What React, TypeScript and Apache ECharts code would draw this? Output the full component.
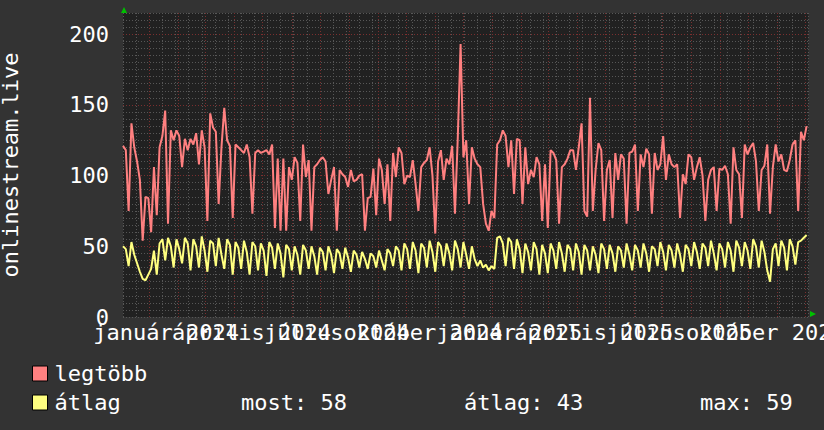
import React, { useEffect, useRef } from "react";
import * as echarts from "echarts";

// Time axis in days counted from 2023-12-04 (left edge) to 2025-12-04 (right edge)
const TOTAL_DAYS = 731;
const DAY_STEP = 3; // one reading every 3 days
const MINOR_GRID_DAYS = 14;

// first day of each month (days from 2023-12-04)
const monthStartDays = [
  28, 59, 88, 119, 149, 180, 210, 241, 272, 302, 333, 363,
  394, 425, 453, 484, 514, 545, 575, 606, 637, 667, 698, 728,
];

// x tick labels and where they sit (days from 2023-12-04)
const xLabelDays = [46, 137, 228, 320, 412, 502, 593, 685];
const xLabelTexts = [
  "január 2024", "április 2024", "július 2024", "október 2024",
  "január 2025", "április 2025", "július 2025", "október 2025",
];

const yMajorTicks = [50, 100, 150, 200];

// legtöbb (maximum) readings
const maxValues = [
  121, 118, 75, 137, 120, 110, 97, 54, 85, 84,
  60, 106, 72, 120, 128, 146, 66, 132, 125, 132,
  128, 106, 126, 118, 126, 122, 130, 108, 132, 120,
  68, 144, 134, 131, 80, 120, 148, 125, 121, 70,
  122, 120, 118, 116, 122, 113, 73, 116, 118, 116,
  117, 118, 115, 122, 63, 112, 61, 112, 61, 106,
  97, 113, 109, 68, 122, 99, 111, 61, 106, 108,
  111, 113, 110, 87, 97, 106, 61, 104, 101, 99,
  92, 104, 96, 97, 100, 101, 61, 84, 85, 105,
  72, 112, 104, 80, 108, 68, 116, 99, 120, 116,
  94, 100, 99, 111, 94, 75, 106, 109, 111, 120,
  100, 59, 110, 118, 97, 112, 108, 121, 73, 127,
  193, 113, 125, 80, 120, 112, 108, 106, 80, 66,
  61, 75, 70, 122, 125, 132, 128, 106, 125, 87,
  126, 125, 80, 120, 94, 104, 99, 113, 108, 68,
  108, 63, 118, 116, 111, 66, 106, 108, 112, 118,
  118, 104, 120, 137, 75, 71, 155, 75, 104, 123,
  118, 68, 104, 111, 70, 116, 97, 115, 112, 66,
  116, 117, 122, 75, 115, 106, 119, 115, 73, 116,
  104, 108, 128, 97, 115, 108, 106, 108, 70, 101,
  94, 115, 113, 97, 106, 113, 100, 68, 97, 104,
  106, 75, 105, 104, 107, 101, 66, 120, 104, 101,
  70, 122, 115, 120, 123, 110, 75, 104, 107, 122,
  73, 106, 122, 110, 115, 104, 103, 111, 122, 125,
  75, 131, 125, 135,
];

// átlag (average) readings
const avgValues = [
  50, 48, 36, 53, 44, 38, 32, 27, 26, 30,
  34, 47, 30, 52, 55, 40, 56, 50, 35, 55, 48,
  38, 56, 52, 33, 55, 50, 35, 57, 47, 32, 54, 52, 36, 56, 44, 34, 55, 51, 30, 53,
  49, 34, 54, 46, 30, 53, 50, 33, 52, 47, 29, 53, 49, 34, 52, 45, 28, 51, 48, 33,
  50, 44, 30, 51, 47, 34, 50, 43, 30, 49, 46, 33, 50, 44, 31, 48, 45, 34, 49, 42,
  32, 47, 44, 35, 46, 41, 34, 45, 43, 35, 47, 40, 33, 48, 45, 36, 50, 47, 33, 52,
  48, 34, 53, 47, 31, 52, 49, 35, 54, 46, 32, 53, 50, 36, 52, 45, 33, 54, 48, 35,
  53, 44, 34, 50, 41, 36, 40, 35, 37, 33, 36, 34, 56, 57, 52, 36, 56, 53, 34, 55,
  48, 31, 52, 46, 33, 53, 48, 30, 51, 45, 31, 52, 47, 34, 53, 45, 32, 51, 48, 33,
  52, 46, 30, 51, 47, 33, 50, 44, 31, 52, 48, 34, 51, 45, 32, 50, 47, 35, 52, 44,
  33, 51, 47, 35, 52, 45, 32, 50, 48, 36, 53, 46, 33, 51, 47, 35, 52, 44, 32, 51,
  48, 36, 53, 46, 34, 52, 49, 36, 54, 45, 33, 52, 48, 35, 53, 47, 32, 54, 49, 36,
  53, 47, 34, 55, 50, 35, 54, 46, 33, 25, 48, 52, 36, 54, 49, 33, 55, 50, 37, 53, 54, 56, 58,
];

const seriesNames = ["legtöbb", "átlag"];
const seriesColors = ["#ff8080", "#ffff80"];
const statTexts = ["most: 58", "átlag: 43", "max: 59"];

const FONT = "DejaVu Sans Mono";

export default function App() {
  const ref = useRef<HTMLDivElement>(null);

  useEffect(() => {
    if (!ref.current) return;
    const chart = echarts.init(ref.current, null, { renderer: "svg" });

    const toPairs = (arr: number[]) => arr.map((v, i) => [i * DAY_STEP, v]);
    // empty guard labels at both ends so that no real label is dropped
    const labelPositions = [0, ...xLabelDays, TOTAL_DAYS];

    chart.setOption({
      animation: false,
      backgroundColor: "#333333",
      textStyle: { fontFamily: FONT },
      grid: {
        left: 123,
        right: 15.5,
        top: 13,
        bottom: 113,
        show: true,
        backgroundColor: "#212121",
        borderWidth: 0,
        containLabel: false,
        outerBoundsMode: "none",
      },
      legend: {
        data: seriesNames.map((n, i) => ({
          name: n,
          itemStyle: { color: seriesColors[i], borderColor: "#000", borderWidth: 1 },
        })),
        orient: "vertical",
        left: 32,
        top: 362.5,
        padding: 0,
        itemGap: 7,
        itemWidth: 15,
        itemHeight: 15,
        icon: "rect",
        selectedMode: false,
        textStyle: {
          color: "#ffffff",
          fontSize: 22,
          fontFamily: FONT,
          lineHeight: 22,
          padding: [0, 0, 0, 2],
        },
      },
      xAxis: {
        type: "value",
        min: 0,
        max: TOTAL_DAYS,
        interval: MINOR_GRID_DAYS,
        axisLine: { show: false },
        axisTick: { show: false },
        splitLine: {
          show: true,
          lineStyle: { color: "#575757", type: [1, 2], width: 1 },
        },
        axisLabel: {
          customValues: labelPositions,
          formatter: (v: number) => {
            const k = xLabelDays.indexOf(Math.round(v));
            return k >= 0 ? xLabelTexts[k] : "";
          },
          color: "#ffffff",
          fontSize: 22,
          fontFamily: FONT,
          margin: 4,
          hideOverlap: false,
          showMinLabel: false,
          showMaxLabel: false,
        },
      },
      yAxis: {
        type: "value",
        min: 0,
        max: 215,
        interval: 5,
        axisLine: { show: false },
        axisTick: { show: false },
        splitLine: {
          show: true,
          lineStyle: { color: "#575757", type: [1, 2], width: 1 },
        },
        axisLabel: {
          formatter: (v: number) => (v % 50 === 0 && v <= 200 ? String(v) : ""),
          color: "#ffffff",
          fontSize: 22,
          fontFamily: FONT,
          margin: 14,
        },
        name: "onlinestream.live",
        nameLocation: "middle",
        nameGap: 102,
        nameTextStyle: { color: "#ffffff", fontSize: 22, fontFamily: FONT },
      },
      series: [
        {
          name: seriesNames[0],
          type: "line",
          data: toPairs(maxValues),
          symbol: "none",
          z: 3,
          lineStyle: { color: seriesColors[0], width: 2 },
          itemStyle: { color: seriesColors[0] },
          emphasis: { disabled: true },
        },
        {
          name: seriesNames[1],
          type: "line",
          data: toPairs(avgValues),
          symbol: "none",
          z: 4,
          lineStyle: { color: seriesColors[1], width: 2 },
          itemStyle: { color: seriesColors[1] },
          emphasis: { disabled: true },
          markLine: {
            silent: true,
            symbol: ["none", "none"],
            z: 1,
            label: { show: false },
            emphasis: { disabled: true },
            lineStyle: { color: "#7a2f2f", type: [1, 2], width: 1 },
            data: [
              ...monthStartDays.map((d) => ({ xAxis: d })),
              ...yMajorTicks.map((v) => ({ yAxis: v })),
            ],
          },
        },
      ],
      graphic: [
        {
          type: "polygon",
          shape: { points: [[121, 13], [127, 13], [124, 7]] },
          style: { fill: "#00c000" },
          silent: true,
        },
        {
          type: "polygon",
          shape: { points: [[810, 311], [810, 317], [816, 314]] },
          style: { fill: "#00c000" },
          silent: true,
        },
        ...statTexts.map((t, i) => ({
          type: "text",
          x: [241, 464, 700][i],
          y: 402.5,
          silent: true,
          style: {
            text: t,
            fill: "#ffffff",
            font: `22px "${FONT}"`,
            verticalAlign: "middle",
          },
        })),
      ],
    });

    return () => chart.dispose();
  }, []);

  return (
    <div
      ref={ref}
      style={{ position: "fixed", left: 0, top: 0, width: 824, height: 430 }}
    />
  );
}
